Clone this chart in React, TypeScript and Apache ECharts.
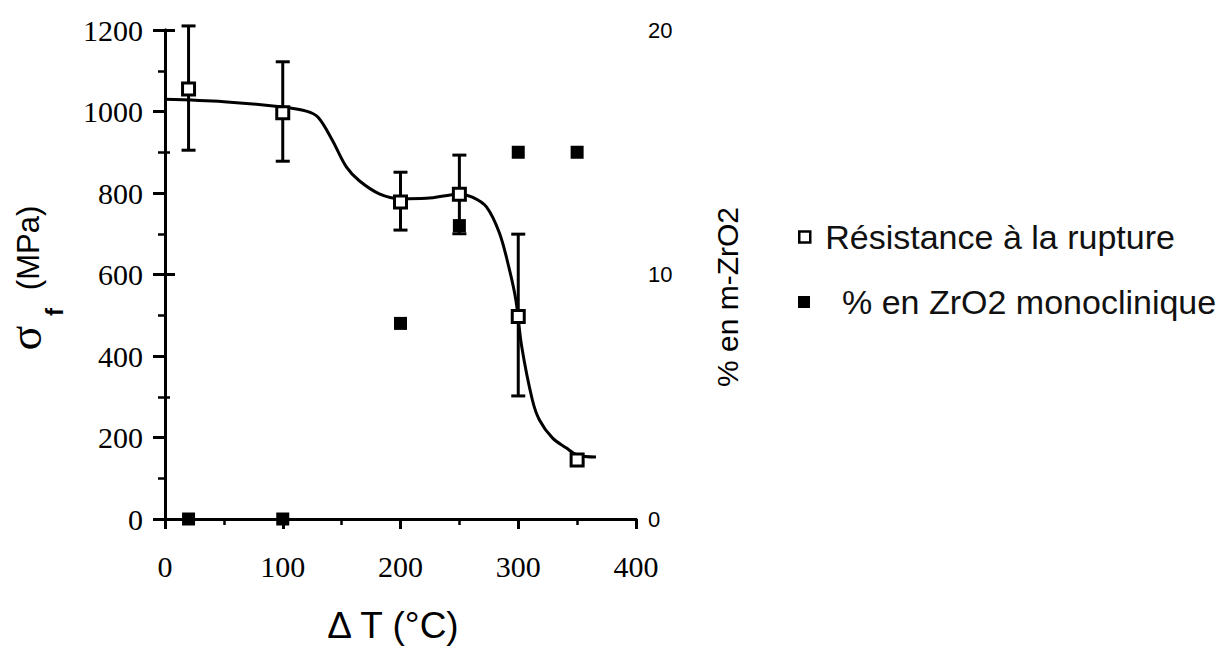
import React, { useEffect, useRef } from "react";
import * as echarts from "echarts";

// Measured points: ΔT (°C)
const deltaT = [20, 100, 200, 250, 300, 350];
// Résistance à la rupture σf (MPa)
const sigma = [1055, 997, 778, 797, 497, 145];
const sigmaLow = [905, 878, 709, 700, 302, 138];
const sigmaHigh = [1210, 1122, 851, 893, 699, 158];
// % en ZrO2 monoclinique
const mZrO2 = [0, 0, 8, 12, 15, 15];

// Fitted curve
const fitT = [0, 50, 100, 120, 130, 142, 154, 165, 182, 200, 222, 250, 261, 273, 284, 292, 298, 303, 312, 318, 329, 341, 350, 366];
const fitSigma = [1030, 1024, 1011, 1001, 986, 930, 864, 830, 798, 786, 787, 797, 790, 766, 702, 618, 537, 422, 292, 243, 199, 174, 157, 152];

const xTicks = { min: 0, max: 400, interval: 100 };
const yLeft = { min: 0, max: 1200, interval: 200 };
const yRight = { min: 0, max: 20, interval: 10 };

const legendNames = ["Résistance à la rupture", "% en ZrO2 monoclinique"];

export default function App() {
  const ref = useRef<HTMLDivElement>(null);
  useEffect(() => {
    document.body.style.margin = "0";
    const chart = echarts.init(ref.current!, null, { renderer: "svg" });
    const black = "#000";
    const axisCommon = {
      axisLine: { show: true, lineStyle: { color: black, width: 3 } },
      splitLine: { show: false },
      minorSplitLine: { show: false },
    };
    chart.setOption({
      animation: false,
      backgroundColor: "#fff",
      grid: { left: 165, right: 588, top: 30, bottom: 130 },
      legend: [
        {
          data: [{ name: legendNames[0], icon: "rect", itemStyle: { color: "#fff", borderColor: black, borderWidth: 2.5 } }],
          left: 793,
          top: 215,
          itemWidth: 11,
          itemHeight: 11,
          textStyle: { fontFamily: "Liberation Sans", fontSize: 34, color: "#111", padding: [0, 0, 0, 10] },
          selectedMode: false,
        },
        {
          data: [{ name: legendNames[1], icon: "rect", itemStyle: { color: black } }],
          left: 793,
          top: 280,
          itemWidth: 12,
          itemHeight: 12,
          textStyle: { fontFamily: "Liberation Sans", fontSize: 34, color: "#111", padding: [0, 0, 0, 27] },
          selectedMode: false,
        },
      ],
      xAxis: [
        {
          type: "value",
          position: "bottom",
          ...xTicks,
          ...axisCommon,
          axisTick: { show: true, inside: false, length: 10, lineStyle: { color: black, width: 3 } },
          minorTick: { show: true, splitNumber: 2, length: 6, lineStyle: { color: black, width: 2.5 } },
          axisLabel: { fontFamily: "Liberation Serif", fontSize: 30, color: black, margin: 32 },
        },
        {
          type: "value",
          position: "top",
          ...xTicks,
          ...axisCommon,
          axisTick: { show: false },
          minorTick: { show: false },
          axisLabel: { show: false },
        },
      ],
      yAxis: [
        {
          type: "value",
          position: "left",
          ...yLeft,
          ...axisCommon,
          axisTick: { show: true, inside: false, length: 12, lineStyle: { color: black, width: 3 } },
          minorTick: { show: true, splitNumber: 2, length: 7, lineStyle: { color: black, width: 2.5 } },
          axisLabel: { fontFamily: "Liberation Serif", fontSize: 30, color: black, margin: 22, formatter: (v: number) => String(v) },
        },
        {
          type: "value",
          position: "right",
          ...yRight,
          ...axisCommon,
          axisTick: { show: true, inside: false, length: 10, lineStyle: { color: black, width: 3 } },
          minorTick: { show: true, splitNumber: 2, length: 5, lineStyle: { color: black, width: 2.5 } },
          axisLabel: { fontFamily: "Liberation Sans", fontSize: 22, color: black, margin: 12 },
        },
      ],
      graphic: [
        { type: "text", x: 25, y: 338, rotation: Math.PI / 2, style: { text: "σ", font: "46px 'Liberation Serif'", fill: black, align: "center", verticalAlign: "middle" } },
        { type: "text", x: 54, y: 312, rotation: Math.PI / 2, style: { text: "f", font: "bold 24px 'Liberation Sans'", fill: black, align: "center", verticalAlign: "middle" } },
        { type: "text", x: 28, y: 248, rotation: Math.PI / 2, style: { text: "(MPa)", font: "31px 'Liberation Sans'", fill: black, align: "center", verticalAlign: "middle" } },
        { type: "text", x: 727, y: 297, rotation: Math.PI / 2, style: { text: "% en m-ZrO2", font: "30px 'Liberation Sans'", fill: black, align: "center", verticalAlign: "middle" } },
        { type: "text", x: 393, y: 625, style: { text: "Δ T (°C)", font: "37px 'Liberation Sans'", fill: black, align: "center", verticalAlign: "middle" } },
      ],
      series: [
        {
          name: "fit",
          type: "line",
          xAxisIndex: 0,
          yAxisIndex: 0,
          data: fitT.map((t, i) => [t, fitSigma[i]]),
          smooth: 0.35,
          symbol: "none",
          lineStyle: { color: black, width: 3 },
          z: 2,
        },
        {
          name: "errors",
          type: "custom",
          xAxisIndex: 0,
          yAxisIndex: 0,
          clip: false,
          data: deltaT.map((t, i) => [t, sigmaLow[i], sigmaHigh[i]]),
          renderItem: (params: any, api: any) => {
            const lo = api.coord([api.value(0), api.value(1)]);
            const hi = api.coord([api.value(0), api.value(2)]);
            const hw = 7;
            const st = { stroke: black, lineWidth: 3 };
            return {
              type: "group",
              children: [
                { type: "line", shape: { x1: lo[0], y1: lo[1], x2: hi[0], y2: hi[1] }, style: st },
                { type: "line", shape: { x1: lo[0] - hw, y1: lo[1], x2: lo[0] + hw, y2: lo[1] }, style: st },
                { type: "line", shape: { x1: hi[0] - hw, y1: hi[1], x2: hi[0] + hw, y2: hi[1] }, style: st },
              ],
            };
          },
          z: 3,
        },
        {
          name: legendNames[0],
          type: "scatter",
          xAxisIndex: 0,
          yAxisIndex: 0,
          data: deltaT.map((t, i) => [t, sigma[i]]),
          symbol: "rect",
          symbolSize: 12,
          itemStyle: { color: "#fff", borderColor: black, borderWidth: 3, opacity: 1 },
          z: 5,
        },
        {
          name: legendNames[1],
          type: "scatter",
          xAxisIndex: 0,
          yAxisIndex: 1,
          data: deltaT.map((t, i) => [t, mZrO2[i]]),
          symbol: "rect",
          symbolSize: 13,
          itemStyle: { color: black, opacity: 1 },
          clip: false,
          z: 6,
        },
      ],
    });
    return () => chart.dispose();
  }, []);
  return <div ref={ref} style={{ width: 1224, height: 649 }} />;
}
